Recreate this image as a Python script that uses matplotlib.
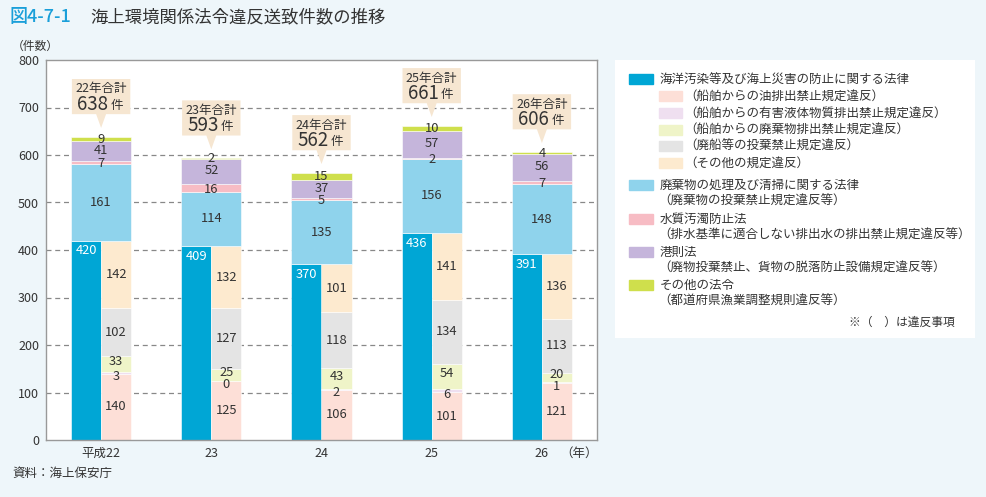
import numpy as np
import matplotlib
matplotlib.use("Agg")
import matplotlib.pyplot as plt
from matplotlib.patches import Polygon, Rectangle

plt.rcParams["font.family"] = ["Noto Sans CJK JP", "DejaVu Sans"]

# data (件数)
years = ["平成22", "23", "24", "25", "26"]
year_short = ["22", "23", "24", "25", "26"]
marine_total = [420, 409, 370, 436, 391]
marine_oil = [140, 125, 106, 101, 121]
marine_liquid = [3, 0, 2, 6, 1]
marine_waste = [33, 25, 43, 54, 20]
marine_ship = [102, 127, 118, 134, 113]
marine_other = [142, 132, 101, 141, 136]
waste_law = [161, 114, 135, 156, 148]
water_law = [7, 16, 5, 2, 7]
port_law = [41, 52, 37, 57, 56]
other_law = [9, 2, 15, 10, 4]

BG = "#eef6fa"
TXT = "#333333"
c_marine = "#00a6d5"
sub_colors = ["#fddfd7", "#efdff0", "#eff4c8", "#e4e4e4", "#fdeacf"]
top_colors = ["#8fd3ec", "#f7bcc4", "#c5b5db", "#cfdf4c"]

fig = plt.figure(figsize=(9.87, 4.97), dpi=100, facecolor=BG)
ax = fig.add_axes([46 / 987, 57 / 497, 551 / 987, 380 / 497])
ax.set_facecolor("white")

x = np.arange(len(years))
half = 0.273
fs = 9.3

# left half: 海洋汚染等 total
ax.bar(x - half / 2, marine_total, width=half, color=c_marine,
       edgecolor="white", linewidth=0.4, zorder=2)
for xi, v in zip(x, marine_total):
    ax.text(xi - half / 2, v - 22, str(v), ha="center", va="center",
            color="white", fontsize=fs, zorder=4)

# right half: breakdown
subs = [marine_oil, marine_liquid, marine_waste, marine_ship, marine_other]
bottom = np.zeros(len(x))
for k, (vals, col) in enumerate(zip(subs, sub_colors)):
    vals = np.array(vals)
    ax.bar(x + half / 2, vals, width=half, bottom=bottom, color=col,
           edgecolor="white", linewidth=0.4, zorder=2)
    # small neighbouring segments: nudge the labels apart a little
    nudge = {1: -8, 2: 5}.get(k, 0)
    for xi, b, v in zip(x, bottom, vals):
        ax.text(xi + half / 2, b + v / 2 + nudge, str(v), ha="center",
                va="center", color=TXT, fontsize=fs, zorder=4)
    bottom += vals

# top: other laws, full width
tops = [waste_law, water_law, port_law, other_law]
bottom = np.array(marine_total, dtype=float)
for k, (vals, col) in enumerate(zip(tops, top_colors)):
    vals = np.array(vals)
    ax.bar(x, vals, width=2 * half, bottom=bottom, color=col,
           edgecolor="white", linewidth=0.4, zorder=2)
    nudge = {1: -3, 2: 2}.get(k, 0)
    for xi, b, v in zip(x, bottom, vals):
        ax.text(xi, b + v / 2 + nudge, str(v), ha="center", va="center",
                color=TXT, fontsize=fs, zorder=4)
    bottom += vals
totals = bottom

# callouts
bw = 0.265
for xi, t, ys in zip(x, totals, year_short):
    b0 = t + 48
    b1 = b0 + 74
    tip = t + 19
    pts = [(xi - bw, b0), (xi - 0.045, b0), (xi, tip), (xi + 0.045, b0),
           (xi + bw, b0), (xi + bw, b1), (xi - bw, b1)]
    ax.add_patch(Polygon(pts, closed=True, facecolor="#f6e6d1",
                         edgecolor="none", zorder=5))
    ax.text(xi, b1 - 21, f"{ys}年合計", ha="center", va="center",
            fontsize=9, color=TXT, zorder=6)
    ax.text(xi + 0.065, b0 + 21, f"{int(t)}", ha="right", va="center",
            fontsize=13.5, color=TXT, zorder=6)
    ax.text(xi + 0.085, b0 + 19, "件", ha="left", va="center",
            fontsize=9, color=TXT, zorder=6)

ax.set_xlim(-0.5, 4.5)
ax.set_ylim(0, 800)
ax.set_yticks(range(0, 801, 100))
ax.set_xticks(x)
ax.set_xticklabels(years[:-1] + ["26"])
ax.tick_params(length=0, labelsize=9, colors=TXT, pad=5)
for yv in range(100, 800, 100):
    ax.axhline(yv, color="#888888", linestyle=(0, (4, 3)), linewidth=0.9,
               zorder=1)
for s in ax.spines.values():
    s.set_color("#999999")
    s.set_linewidth(1.0)
ax.text(4.17, -0.034, "（年）", transform=ax.get_xaxis_transform(),
        ha="left", va="center", fontsize=9, color=TXT)

# titles
fig.text(10 / 987, 1 - 17 / 497, "図4-7-1", color="#1a9fd9", fontsize=13,
         fontweight="medium", va="center", ha="left")
fig.text(90 / 987, 1 - 17 / 497, "海上環境関係法令違反送致件数の推移",
         color=TXT, fontsize=12.5, va="center", ha="left")
fig.text(12 / 987, 1 - 46 / 497, "（件数）", color=TXT, fontsize=8.5,
         va="center", ha="left")
fig.text(12 / 987, 1 - 473 / 497, "資料：海上保安庁", color=TXT,
         fontsize=9, va="center", ha="left")

# legend box in pixel coordinates
lg = fig.add_axes([615 / 987, 1 - 338 / 497, 360 / 987, 278 / 497])
lg.set_xlim(615, 975)
lg.set_ylim(338, 60)
lg.set_facecolor("white")
lg.set_xticks([])
lg.set_yticks([])
for s in lg.spines.values():
    s.set_visible(False)

main_items = [
    (c_marine, ["海洋汚染等及び海上災害の防止に関する法律"], 79),
    (top_colors[0], ["廃棄物の処理及び清掃に関する法律", "（廃棄物の投棄禁止規定違反等）"], 185),
    (top_colors[1], ["水質汚濁防止法", "（排水基準に適合しない排出水の排出禁止規定違反等）"], 219),
    (top_colors[2], ["港則法", "（廃物投棄禁止、貨物の脱落防止設備規定違反等）"], 252),
    (top_colors[3], ["その他の法令", "（都道府県漁業調整規則違反等）"], 285),
]
for col, lines, yy in main_items:
    lg.add_patch(Rectangle((629, yy - 5), 24, 10, color=col))
    for k, line in enumerate(lines):
        lg.text(658 if k else 660, yy + k * 16, line, ha="left", va="center",
                fontsize=9, color=TXT)

sub_labels = ["（船舶からの油排出禁止規定違反）",
              "（船舶からの有害液体物質排出禁止規定違反）",
              "（船舶からの廃棄物排出禁止規定違反）",
              "（廃船等の投棄禁止規定違反）",
              "（その他の規定違反）"]
for k, (col, lab) in enumerate(zip(sub_colors, sub_labels)):
    yy = 96 + k * 16.8
    lg.add_patch(Rectangle((659, yy - 5), 23, 10, color=col))
    lg.text(684, yy, lab, ha="left", va="center", fontsize=9, color=TXT)

lg.text(955, 322, "※（　）は違反事項", ha="right", va="center",
        fontsize=8.5, color=TXT)

fig.savefig("out.png", dpi=100, facecolor=BG)
